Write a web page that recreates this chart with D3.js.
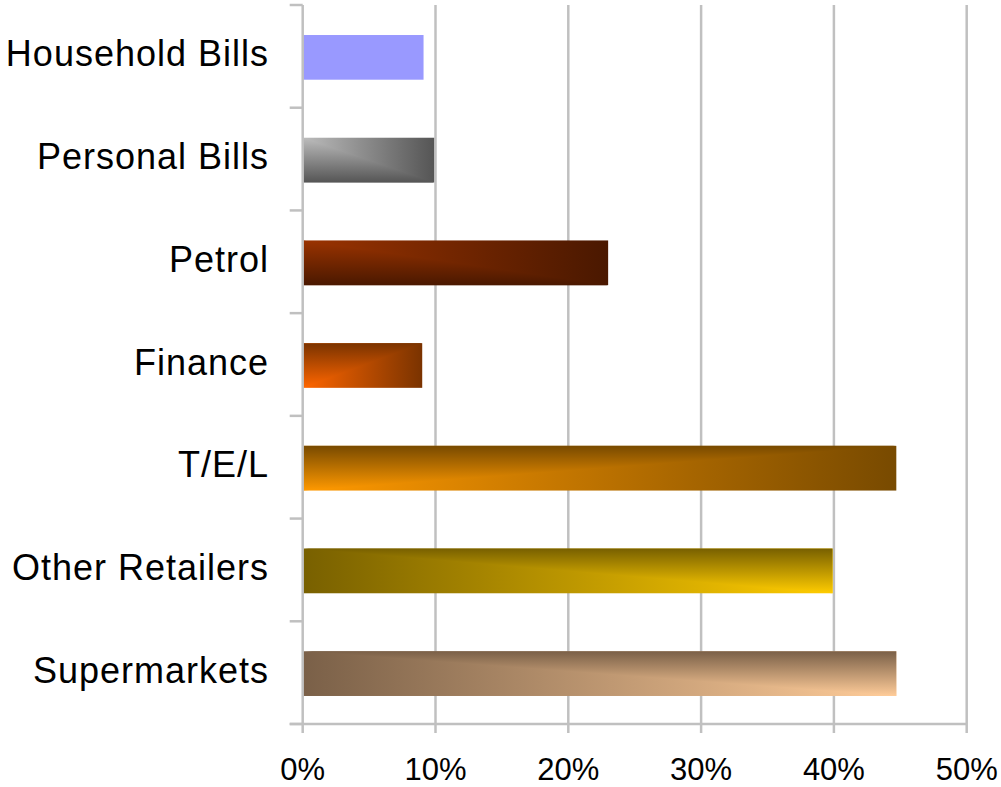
<!DOCTYPE html>
<html><head><meta charset="utf-8">
<script src="https://cdn.jsdelivr.net/npm/d3@7"></script>
<style>body{margin:0;background:#fff}svg{display:block}</style>
</head><body><svg id="c" width="1001" height="787"></svg>
<script>
const categories = ["Household Bills","Personal Bills","Petrol","Finance","T/E/L","Other Retailers","Supermarkets"];
const values = [9.1, 9.9, 23.0, 9.0, 44.7, 39.9, 44.7];
const tickValues = [0, 10, 20, 30, 40, 50];
const tickLabels = ["0%","10%","20%","30%","40%","50%"];
const lightColors = ["#9999ff","#bcbcbc","#9a3300","#ff6600","#ff9900","#ffcc00","#ffcc99"];
const darkColors  = ["#9999ff","#555555","#4a1800","#7a3300","#784a00","#786000","#7a6048"];
const corners = ["none","tl","tl","bl","bl","br","br"];

const svg = d3.select("#c");
const plotTop = 5, plotBottom = 724, plotLeft = 302.7, plotRight = 966.7;
const x = d3.scaleLinear().domain([0, 50]).range([plotLeft, plotRight]);
const y = d3.scaleBand().domain(categories).range([plotTop, plotBottom]).padding(0);
const barFrac = 0.435;
const axisColor = "#c0c0c0";

const defs = svg.append("defs");
categories.forEach((c, i) => {
  const cr = corners[i];
  if (cr === "none") return;
  const fromLeft = cr[1] === "l", fromTop = cr[0] === "t";
  const h = defs.append("linearGradient").attr("id", "h" + i)
    .attr("x1", fromLeft ? 0 : 1).attr("x2", fromLeft ? 1 : 0).attr("y1", 0).attr("y2", 0);
  h.append("stop").attr("offset", 0).attr("stop-color", lightColors[i]);
  h.append("stop").attr("offset", 1).attr("stop-color", darkColors[i]);
  const v = defs.append("linearGradient").attr("id", "v" + i)
    .attr("x1", 0).attr("x2", 0).attr("y1", fromTop ? 0 : 1).attr("y2", fromTop ? 1 : 0);
  v.append("stop").attr("offset", 0).attr("stop-color", lightColors[i]);
  v.append("stop").attr("offset", 1).attr("stop-color", darkColors[i]);
});

// gridlines
svg.append("g").selectAll("line").data(tickValues.slice(1)).join("line")
  .attr("x1", d => x(d)).attr("x2", d => x(d))
  .attr("y1", plotTop).attr("y2", plotBottom)
  .attr("stroke", axisColor).attr("stroke-width", 2.5);

// bars
const bars = svg.append("g");
categories.forEach((c, i) => {
  const bw = y.bandwidth();
  const bh = bw * barFrac;
  const y0 = y(c) + (bw - bh) / 2 + 1;
  const x0 = x(0), w = x(values[i]) - x(0);
  const cr = corners[i];
  if (cr === "none") {
    bars.append("rect").attr("x", x0).attr("y", y0).attr("width", w).attr("height", bh)
      .attr("fill", lightColors[i]);
    return;
  }
  bars.append("rect").attr("x", x0).attr("y", y0).attr("width", w).attr("height", bh)
    .attr("fill", `url(#h${i})`);
  const cx = cr[1] === "l" ? 0 : 1, cy = cr[0] === "t" ? 0 : 1;
  const pts = [[cx, cy], [1 - cx, 1 - cy], [cx, 1 - cy]]
    .map(p => [x0 + p[0] * w, y0 + p[1] * bh].join(",")).join(" ");
  bars.append("polygon").attr("points", pts).attr("fill", `url(#v${i})`);
});

// y axis line and category ticks
svg.append("line").attr("x1", plotLeft).attr("x2", plotLeft).attr("y1", plotTop).attr("y2", plotBottom)
  .attr("stroke", axisColor).attr("stroke-width", 2.5);
const bounds = categories.map(c => y(c)).concat([plotBottom]);
svg.append("g").selectAll("line").data(bounds).join("line")
  .attr("x1", plotLeft - 13).attr("x2", plotLeft).attr("y1", d => d).attr("y2", d => d)
  .attr("stroke", axisColor).attr("stroke-width", 2.5);
// x axis line
svg.append("line").attr("x1", plotLeft - 13).attr("x2", plotRight).attr("y1", plotBottom).attr("y2", plotBottom)
  .attr("stroke", axisColor).attr("stroke-width", 2.5);
svg.append("g").selectAll("line").data(tickValues).join("line")
  .attr("x1", d => x(d)).attr("x2", d => x(d)).attr("y1", plotBottom).attr("y2", plotBottom + 9)
  .attr("stroke", axisColor).attr("stroke-width", 2.5);

// labels
svg.append("g").selectAll("text").data(tickValues).join("text")
  .attr("x", d => x(d)).attr("y", 780)
  .attr("text-anchor", "middle")
  .attr("font-family", "'Liberation Sans', Arial, sans-serif").attr("font-size", 31)
  .attr("fill", "#000")
  .text((d, i) => tickLabels[i]);

svg.append("g").selectAll("text").data(categories).join("text")
  .attr("x", 269).attr("y", d => y(d) + y.bandwidth() / 2 + 10)
  .attr("text-anchor", "end")
  .attr("font-family", "'Liberation Sans', Arial, sans-serif").attr("font-size", 36)
  .attr("letter-spacing", 1)
  .attr("fill", "#000")
  .text(d => d);
</script>
</body></html>
